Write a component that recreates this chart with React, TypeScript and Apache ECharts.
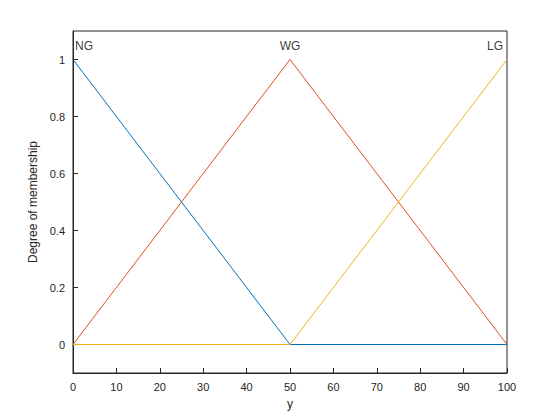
import React, { useEffect, useRef } from "react";
import * as echarts from "echarts";

const xNG = [0, 50, 100];
const yNG = [1, 0, 0];
const xWG = [0, 50, 100];
const yWG = [0, 1, 0];
const xLG = [0, 50, 100];
const yLG = [0, 0, 1];
const labels = ["NG", "WG", "LG"];
const labelX = [0, 50, 100];
const xTicks = [0, 10, 20, 30, 40, 50, 60, 70, 80, 90, 100];

export default function App() {
  const ref = useRef<HTMLDivElement>(null);
  useEffect(() => {
    const chart = echarts.init(ref.current!, null, { renderer: "svg" });
    const font = "'Liberation Sans', Arial, sans-serif";
    const axisCommon = {
      axisLine: { show: true, onZero: false, lineStyle: { color: "#262626", width: 1 } },
      axisTick: { show: true, inside: true, length: 5, lineStyle: { color: "#262626" } },
      splitLine: { show: false },
      axisLabel: { color: "#262626", fontSize: 11, fontFamily: font },
      nameTextStyle: { color: "#262626", fontSize: 12, fontFamily: font },
    };
    const pair = (xs: number[], ys: number[]) => xs.map((x, i) => [x, ys[i]]);
    const alignFor = ["left", "center", "right"];
    chart.setOption({
      animation: false,
      grid: { left: 73, right: 53, top: 31, bottom: 47, show: true, borderColor: "#262626", borderWidth: 1 },
      xAxis: {
        type: "value", min: 0, max: 100, interval: 10,
        name: "y", nameLocation: "middle", nameGap: 25,
        ...axisCommon,
      },
      yAxis: {
        type: "value", min: -0.1, max: 1.1,
        name: "Degree of membership", nameLocation: "middle", nameGap: 32,
        ...axisCommon,
        axisLabel: {
          ...axisCommon.axisLabel,
          customValues: [0, 0.2, 0.4, 0.6, 0.8, 1],
          formatter: (v: number) => String(Math.round(v * 10) / 10),
        },
        axisTick: { ...axisCommon.axisTick, customValues: [0, 0.2, 0.4, 0.6, 0.8, 1] },
      },
      series: [
        { type: "line", data: pair(xNG, yNG), symbol: "none", lineStyle: { color: "#0072BD", width: 1 } },
        { type: "line", data: pair(xWG, yWG), symbol: "none", lineStyle: { color: "#D95319", width: 1 } },
        { type: "line", data: pair(xLG, yLG), symbol: "none", lineStyle: { color: "#EDB120", width: 1 } },
        {
          type: "scatter", symbolSize: 0, silent: true,
          data: labels.map((l, i) => ({
            value: [labelX[i], 1],
            name: l,
            label: {
              show: true, position: "top", distance: 8, formatter: l,
              align: alignFor[i], offset: [i === 0 ? 2 : i === 2 ? -4 : 0, 0],
              color: "#000", fontSize: 12, fontFamily: font,
            },
          })),
        },
      ],
    });
    return () => chart.dispose();
  }, []);
  return <div ref={ref} style={{ width: 560, height: 420, margin: -8 }} />;
}
